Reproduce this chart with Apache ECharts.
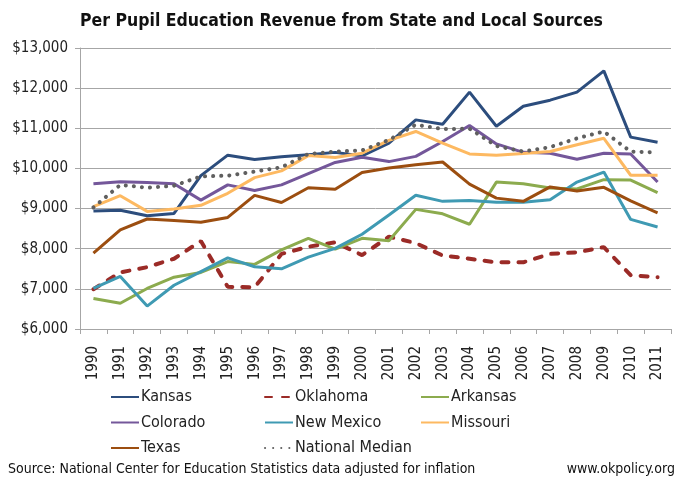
<!DOCTYPE html>
<html>
<head>
<meta charset="utf-8">
<script src="https://cdn.jsdelivr.net/npm/echarts@6/dist/echarts.min.js"></script>
<style>
html, body { margin: 0; padding: 0; background: #fff; }
#chart { width: 683px; height: 483px; }
</style>
</head>
<body>
<div id="chart"></div>
<script>
// 数据
var years = ['1990','1991','1992','1993','1994','1995','1996','1997','1998','1999','2000',
             '2001','2002','2003','2004','2005','2006','2007','2008','2009','2010','2011'];
var kansas     = [8940,8960,8820,8880,9820,10330,10220,10290,10340,10400,10310,10630,11210,11100,11900,11050,11550,11700,11900,12430,10780,10650];
var oklahoma   = [6990,7410,7540,7750,8190,7050,7040,7870,8050,8160,7840,8300,8140,7830,7750,7660,7660,7870,7910,8040,7340,7290];
var arkansas   = [6760,6640,7010,7290,7410,7680,7610,7970,8260,7990,8260,8200,8980,8870,8610,9660,9620,9510,9490,9720,9710,9400];
var colorado   = [9620,9670,9650,9620,9210,9590,9450,9590,9870,10150,10280,10170,10300,10670,11070,10610,10400,10380,10230,10380,10360,9660];
var newMexico  = [7010,7310,6570,7090,7430,7770,7550,7500,7790,8010,8360,8840,9330,9180,9200,9160,9160,9220,9660,9910,8730,8540];
var missouri   = [9050,9320,8930,8990,9080,9380,9770,9940,10320,10270,10380,10700,10920,10630,10360,10330,10370,10420,10590,10750,9830,9830];
var texas      = [7890,8470,8740,8700,8660,8780,9330,9150,9520,9480,9900,10010,10090,10160,9610,9260,9180,9540,9440,9530,9190,8890];
var natMedian  = [9030,9590,9520,9570,9800,9820,9920,10030,10360,10420,10450,10710,11090,10980,10990,10560,10420,10530,10750,10920,10420,10400];

var narrow = '"Liberation Sans Narrow", "DejaVu Sans Condensed", sans-serif';

function line(name, data, color, type, cap) {
	return {
		name : name,
		type : 'line',
		data : data,
		symbol : 'none',
		smooth : false,
		lineStyle : { color : color, width : type === 'solid' ? 3 : 4, type : type, cap : cap || 'butt' },
		itemStyle : { color : color }
	};
}

var legendText = { fontFamily : narrow, fontSize : 16, color : '#222', padding : [0, 0, 0, -3] };

function legendCol(names, left) {
	return {
		data : names, orient : 'vertical', left : left, top : 389, padding : 0,
		itemWidth : 28, itemHeight : 12, itemGap : 9.5,
		itemStyle : { opacity : 0 },
		textStyle : legendText
	};
}

var option = {
	animation : false,
	title : {
		text : 'Per Pupil Education Revenue from State and Local Sources',
		left : 'center',
		top : 7,
		textStyle : { fontFamily : narrow, fontSize : 17.5, fontWeight : 'bold', color : '#111' }
	},
	grid : { left : 80, right : 12, top : 48, bottom : 154 },
	//三列图例
	legend : [
		legendCol(['Kansas','Colorado','Texas'], 110),
		legendCol(['Oklahoma','New Mexico','National Median'], 264),
		legendCol(['Arkansas','Missouri'], 420)
	],
	xAxis : {
		type : 'category',
		data : years,
		boundaryGap : true,
		axisLine : { lineStyle : { color : '#a6a6a6', width : 1 } },
		axisTick : { show : true, length : 5, interval : 0, lineStyle : { color : '#a6a6a6' } },
		axisLabel : { rotate : 90, interval : 0, fontFamily : narrow, fontSize : 15, color : '#222', margin : 17 }
	},
	yAxis : {
		type : 'value',
		min : 6000,
		max : 13000,
		interval : 1000,
		axisLine : { show : true, lineStyle : { color : '#a6a6a6' } },
		axisTick : { show : true, length : 5, lineStyle : { color : '#a6a6a6' } },
		splitLine : { lineStyle : { color : '#a6a6a6', width : 1 } },
		axisLabel : {
			fontFamily : narrow, fontSize : 15, color : '#222', margin : 12,
			formatter : function (v) { return '$' + v.toLocaleString('en-US'); }
		}
	},
	series : [
		line('Kansas', kansas, '#2c4d7d', 'solid'),
		line('Oklahoma', oklahoma, '#9b2b27', [7, 10], 'round'),
		line('Arkansas', arkansas, '#8cab4e', 'solid'),
		line('Colorado', colorado, '#74579a', 'solid'),
		line('New Mexico', newMexico, '#3f9ab3', 'solid'),
		line('Missouri', missouri, '#fdb961', 'solid'),
		line('Texas', texas, '#9c4e10', 'solid'),
		line('National Median', natMedian, '#5f5f5f', [0.1, 8], 'round')
	],
	graphic : [
		{ type : 'text', left : 8, top : 462,
		  style : { text : 'Source: National Center for Education Statistics data adjusted for inflation',
		            font : '14px ' + narrow, fill : '#111' } },
		{ type : 'text', right : 8, top : 462,
		  style : { text : 'www.okpolicy.org', font : '14px ' + narrow, fill : '#111' } }
	]
};

var myChart = echarts.init(document.getElementById('chart'));
myChart.setOption(option);
window.onresize = myChart.resize;
</script>
</body>
</html>
